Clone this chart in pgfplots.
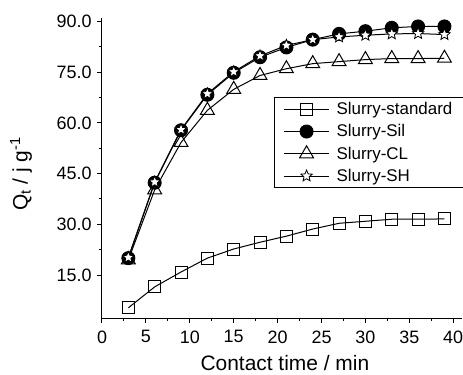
\documentclass[border=0pt]{standalone}
\usepackage{fontspec}
\setmainfont{Liberation Sans}
\usepackage{pgfplots}
\pgfplotsset{compat=1.18}
\pgfdeclareplotmark{ostar}{%
  \pgfpathmoveto{\pgfpointpolar{90}{\pgfplotmarksize}}%
  \pgfpathlineto{\pgfpointpolar{126}{0.45\pgfplotmarksize}}%
  \pgfpathlineto{\pgfpointpolar{162}{\pgfplotmarksize}}%
  \pgfpathlineto{\pgfpointpolar{198}{0.45\pgfplotmarksize}}%
  \pgfpathlineto{\pgfpointpolar{234}{\pgfplotmarksize}}%
  \pgfpathlineto{\pgfpointpolar{270}{0.45\pgfplotmarksize}}%
  \pgfpathlineto{\pgfpointpolar{306}{\pgfplotmarksize}}%
  \pgfpathlineto{\pgfpointpolar{342}{0.45\pgfplotmarksize}}%
  \pgfpathlineto{\pgfpointpolar{18}{\pgfplotmarksize}}%
  \pgfpathlineto{\pgfpointpolar{54}{0.45\pgfplotmarksize}}%
  \pgfpathclose
  \pgfusepathqfillstroke}
\begin{document}
\begin{tikzpicture}
\begin{axis}[
 at={(0,0)}, anchor=south west,
 scale only axis, width=360bp, height=300bp,
 xmin=0, xmax=41, ymin=2.3, ymax=91,
 axis x line*=bottom, axis y line*=left,
 axis line style={line width=1bp, black},
 every tick/.style={line width=1bp, black},
 tick align=outside,
 xtick={0,5,...,40}, ytick={15,30,...,90},
 minor x tick num=1, minor y tick num=1,
 major tick length=5bp, minor tick length=3bp,
 yticklabel style={/pgf/number format/.cd, fixed, fixed zerofill, precision=1},
 /pgf/number format/assume math mode=true,
 tick label style={font=\fontsize{18}{21}\selectfont},
 yticklabel shift=2bp,
 xticklabel shift=4bp,
 label style={font=\fontsize{21}{24}\selectfont},
 xlabel={Contact time / min},
 ylabel={Q\textsubscript{t} / j g\textsuperscript{-1}},
 xlabel style={at={(axis description cs:0.508,-0.150)}, anchor=center},
 ylabel style={at={(axis description cs:-0.225,0.48)}, anchor=center},
 legend style={at={(0.478,0.737)}, anchor=north west,
   font=\fontsize{17}{20}\selectfont, draw=black, line width=1bp,
   inner xsep=9bp, inner ysep=3bp, row sep=4.5bp, column sep=5bp},
 legend cell align=left,
 legend image code/.code={\draw[mark repeat=2,mark phase=2,#1] plot coordinates {(0bp,0bp)(22.5bp,0bp)(45bp,0bp)};},
 every axis plot/.append style={line width=1bp, black},
]
\addplot[mark=square, mark options={fill=white, line width=1bp}, mark size=6bp] coordinates {
(3,5.3)(6,11.5)(9,15.9)(12,20.0)(15,22.7)(18,24.7)(21,26.5)(24,28.6)(27,30.3)(30,30.9)(33,31.5)(36,31.5)(39,31.6)};
\addlegendentry{Slurry-standard}
\addplot[mark=*, mark options={fill=black, line width=1bp}, mark size=6.5bp] coordinates {
(3,20.0)(6,42.3)(9,57.8)(12,68.3)(15,74.8)(18,79.4)(21,82.3)(24,84.6)(27,86.3)(30,87.1)(33,88.1)(36,88.5)(39,88.5)};
\addlegendentry{Slurry-Sil}
\addplot[mark=triangle, mark options={fill=white, line width=1bp}, mark size=8bp] coordinates {
(3,19.5)(6,40.2)(9,54.2)(12,63.7)(15,69.9)(18,74.0)(21,76.0)(24,77.5)(27,78.1)(30,78.7)(33,79.0)(36,79.0)(39,79.1)};
\addlegendentry{Slurry-CL}
\addplot[mark=ostar, mark options={fill=white, line width=0.8bp}, mark size=6bp] coordinates {
(3,20.2)(6,42.5)(9,58.0)(12,68.6)(15,75.1)(18,79.8)(21,82.9)(24,84.6)(27,85.4)(30,85.9)(33,86.3)(36,86.4)(39,86.1)};
\addlegendentry{Slurry-SH}
\end{axis}
\pgfresetboundingbox
\useasboundingbox (-102bp,-57bp) rectangle (361bp,318bp);
\end{tikzpicture}
\end{document}
